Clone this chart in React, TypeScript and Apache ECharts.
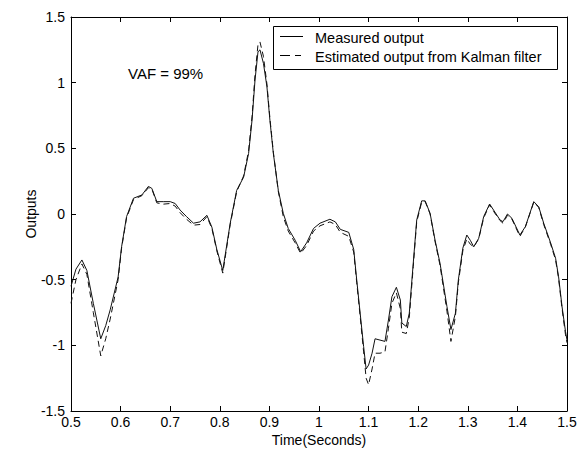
import React, { useEffect, useRef } from "react";
import * as echarts from "echarts";

const time = [
  0.5, 0.51, 0.522, 0.532, 0.545, 0.56, 0.57, 0.579, 0.595, 0.602, 0.612, 0.626, 0.643, 0.656, 0.663, 0.673, 0.686,
  0.7, 0.71, 0.72, 0.733, 0.747, 0.76, 0.774, 0.784, 0.794, 0.806, 0.821, 0.834, 0.848, 0.858, 0.865, 0.871, 0.877,
  0.881, 0.888, 0.895, 0.901, 0.908, 0.918, 0.928, 0.938, 0.952, 0.963, 0.975, 0.989, 1.002, 1.022, 1.033, 1.043,
  1.06, 1.07, 1.076, 1.083, 1.09, 1.095, 1.1, 1.107, 1.113, 1.123, 1.133, 1.14, 1.147, 1.156, 1.164, 1.167, 1.176,
  1.182, 1.19, 1.197, 1.207, 1.214, 1.224, 1.234, 1.244, 1.258, 1.266, 1.275, 1.281, 1.29, 1.298, 1.305, 1.312,
  1.322, 1.332, 1.344, 1.352, 1.365, 1.371, 1.38, 1.389, 1.405, 1.416, 1.433, 1.443, 1.453, 1.467, 1.477, 1.483,
  1.49, 1.497, 1.5,
];

const measured = [
  -0.55, -0.42, -0.35, -0.43, -0.68, -0.95, -0.85, -0.73, -0.48, -0.25, -0.02, 0.12, 0.145, 0.21, 0.195, 0.094, 0.094,
  0.094, 0.08, 0.03, -0.02, -0.07, -0.06, -0.01, -0.1, -0.27, -0.43, -0.07, 0.18, 0.28, 0.46, 0.715, 1.02, 1.235,
  1.25, 1.147, 0.97, 0.715, 0.46, 0.18, 0.005, -0.11, -0.2, -0.287, -0.22, -0.11, -0.07, -0.04, -0.06, -0.117,
  -0.14, -0.27, -0.5, -0.756, -1.01, -1.18, -1.15, -1.06, -0.95, -0.96, -0.97, -0.807, -0.63, -0.558, -0.655, -0.83, -0.857,
  -0.756, -0.375, -0.046, 0.1, 0.1, 0.005, -0.2, -0.375, -0.705, -0.88, -0.756, -0.5, -0.26, -0.16, -0.2, -0.25,
  -0.185, -0.02, 0.076, 0.03, -0.046, -0.058, 0.0, -0.033, -0.16, -0.097, 0.094, 0.055, -0.07, -0.22, -0.337, -0.477,
  -0.705, -0.895, -0.96,
];

const estimated = [
  -0.68, -0.5, -0.38, -0.46, -0.75, -1.08, -0.95, -0.8, -0.5, -0.26, -0.03, 0.11, 0.14, 0.2, 0.19, 0.085, 0.075,
  0.08, 0.06, 0.01, -0.04, -0.085, -0.08, -0.02, -0.11, -0.28, -0.45, -0.08, 0.17, 0.29, 0.48, 0.74, 1.06, 1.29,
  1.31, 1.2, 0.99, 0.73, 0.47, 0.17, -0.02, -0.13, -0.22, -0.3, -0.24, -0.13, -0.09, -0.06, -0.08, -0.14,
  -0.17, -0.29, -0.52, -0.78, -1.05, -1.25, -1.3, -1.18, -1.06, -1.06, -1.05, -0.87, -0.68, -0.6, -0.72, -0.9, -0.91,
  -0.79, -0.4, -0.06, 0.09, 0.095, 0.0, -0.21, -0.39, -0.74, -0.97, -0.78, -0.52, -0.28, -0.19, -0.23, -0.25,
  -0.19, -0.03, 0.07, 0.02, -0.05, -0.07, -0.01, -0.04, -0.17, -0.1, 0.09, 0.05, -0.08, -0.23, -0.35, -0.49,
  -0.72, -0.92, -0.98,
];

const seriesNames = ["Measured output", "Estimated output from Kalman filter"];
const annotation = "VAF = 99%";
const xTitle = "Time(Seconds)";
const yTitle = "Outputs";

const FONT = "'Liberation Sans', Arial, sans-serif";

export default function App() {
  const ref = useRef<HTMLDivElement>(null);
  useEffect(() => {
    if (!ref.current) return;
    const chart = echarts.init(ref.current, null, { renderer: "svg" });
    const fmt = (v: number) => String(+(+v).toFixed(1));
    const axisCommon = {
      axisLine: { show: true, onZero: false, lineStyle: { color: "#000", width: 1 } },
      axisTick: { show: true, inside: true, length: 5, lineStyle: { color: "#000" } },
      splitLine: { show: false },
    };
    const labelStyle = { color: "#000", fontFamily: FONT, fontSize: 14 };
    chart.setOption({
      animation: false,
      backgroundColor: "#fff",
      grid: { left: 71, right: 14, top: 17, bottom: 43, containLabel: false },
      xAxis: [
        {
          type: "value",
          min: 0.5,
          max: 1.5,
          interval: 0.1,
          position: "bottom",
          name: xTitle,
          nameLocation: "middle",
          nameGap: 22,
          nameMoveOverlap: false,
          nameTextStyle: labelStyle,
          axisLabel: { ...labelStyle, margin: 4, formatter: fmt },
          ...axisCommon,
        },
        {
          type: "value",
          min: 0.5,
          max: 1.5,
          interval: 0.1,
          position: "top",
          axisLabel: { show: false },
          ...axisCommon,
        },
      ],
      yAxis: [
        {
          type: "value",
          min: -1.5,
          max: 1.5,
          interval: 0.5,
          position: "left",
          name: yTitle,
          nameLocation: "middle",
          nameGap: 33,
          nameMoveOverlap: false,
          nameTextStyle: labelStyle,
          axisLabel: { ...labelStyle, margin: 6, formatter: fmt },
          ...axisCommon,
        },
        {
          type: "value",
          min: -1.5,
          max: 1.5,
          interval: 0.5,
          position: "right",
          axisLabel: { show: false },
          ...axisCommon,
        },
      ],
      series: [
        {
          name: seriesNames[0],
          type: "line",
          showSymbol: false,
          data: time.map((t, i) => [t, measured[i]]),
          lineStyle: { color: "#111", width: 1 },
          z: 3,
        },
        {
          name: seriesNames[1],
          type: "line",
          showSymbol: false,
          data: time.map((t, i) => [t, estimated[i]]),
          lineStyle: { color: "#111", width: 1, type: [6, 4] },
          z: 2,
        },
      ],
      graphic: [
        {
          type: "text",
          x: 128,
          y: 73,
          style: { text: annotation, fill: "#000", font: `15px ${FONT}`, verticalAlign: "middle" },
        },
        {
          type: "group",
          x: 273,
          y: 26,
          children: [
            {
              type: "rect",
              shape: { x: 0.5, y: 0.5, width: 284, height: 43 },
              style: { fill: "#fff", stroke: "#000", lineWidth: 1 },
            },
            {
              type: "line",
              shape: { x1: 7, y1: 10.5, x2: 30, y2: 10.5 },
              style: { stroke: "#000", lineWidth: 1 },
            },
            {
              type: "line",
              shape: { x1: 7, y1: 29.5, x2: 28, y2: 29.5 },
              style: { stroke: "#000", lineWidth: 1, lineDash: [10, 5] },
            },
            {
              type: "text",
              x: 42,
              y: 12,
              style: { text: seriesNames[0], fill: "#000", font: `14.5px ${FONT}`, verticalAlign: "middle" },
            },
            {
              type: "text",
              x: 42,
              y: 30.5,
              style: { text: seriesNames[1], fill: "#000", font: `14.5px ${FONT}`, verticalAlign: "middle" },
            },
          ],
        },
      ],
    });
    return () => chart.dispose();
  }, []);
  return <div ref={ref} style={{ width: 581, height: 454, position: "absolute", left: 0, top: 0 }} />;
}
